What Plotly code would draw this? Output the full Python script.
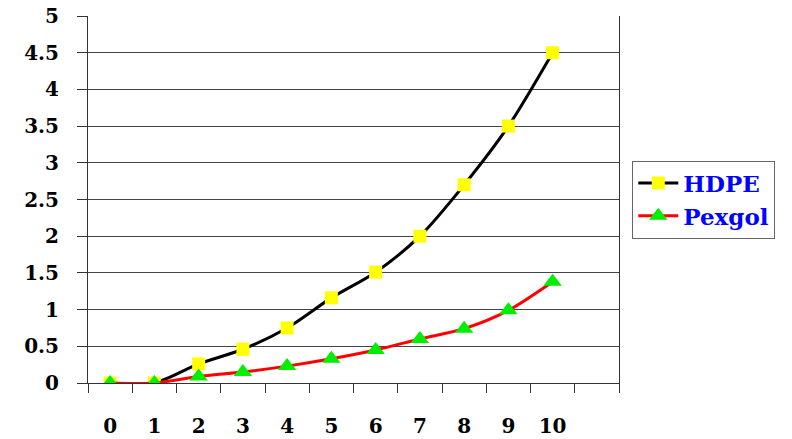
import plotly.graph_objects as go

x_vals = [0, 1, 2, 3, 4, 5, 6, 7, 8, 9, 10]
hdpe = [0, 0, 0.26, 0.46, 0.75, 1.16, 1.51, 2.0, 2.7, 3.5, 4.5]
pexgol = [0, 0, 0.09, 0.15, 0.23, 0.33, 0.45, 0.6, 0.74, 0.99, 1.38]
y_ticks = [0, 0.5, 1, 1.5, 2, 2.5, 3, 3.5, 4, 4.5, 5]
y_labels = ["0", "0.5", "1", "1.5", "2", "2.5", "3", "3.5", "4", "4.5", "5"]

SERIF = "DejaVu Serif"

fig = go.Figure()
fig.add_trace(go.Scatter(
    x=x_vals, y=hdpe, name="HDPE", mode="lines+markers",
    line=dict(color="black", width=3, shape="spline", smoothing=0.8),
    marker=dict(symbol="square", color="#FFFF00", size=13, line=dict(width=0)),
))
fig.add_trace(go.Scatter(
    x=x_vals, y=pexgol, name="Pexgol", mode="lines+markers",
    line=dict(color="#FF0000", width=3, shape="spline", smoothing=0.8),
    marker=dict(symbol="triangle-up", color="#00EE00", size=16, line=dict(width=0)),
))

tick_font = dict(family=SERIF, size=20, color="black", weight="bold")

fig.update_layout(
    template="none",
    width=784, height=431,
    margin=dict(l=80, r=173, t=8, b=56, autoexpand=False),
    paper_bgcolor="white", plot_bgcolor="white",
    font=dict(family=SERIF),
    showlegend=True,
    legend=dict(
        x=1.025, xanchor="left", y=0.5, yanchor="middle",
        bgcolor="white", bordercolor="#666666", borderwidth=1,
        font=dict(family=SERIF, size=23, color="#0000FF", weight="bold"),
        itemwidth=40,
    ),
    xaxis=dict(
        range=[-0.5, 11.5], tickmode="array", tickvals=x_vals,
        ticktext=[str(v) for v in x_vals],
        ticks="", showgrid=False, zeroline=False,
        showline=True, linecolor="#333333", linewidth=1,
        tickfont=tick_font,
        ticklabelstandoff=25, ticklabeloverflow="allow",
        minor=dict(ticks="outside", ticklen=9, tickcolor="#333333", tickwidth=1,
                   tick0=-0.5, dtick=1, showgrid=False),
    ),
    yaxis=dict(
        range=[0, 5], tickmode="array", tickvals=y_ticks, ticktext=y_labels,
        ticks="outside", ticklen=10, tickcolor="#333333", tickwidth=1,
        showgrid=True, gridcolor="#444444", gridwidth=1, zeroline=False,
        showline=True, linecolor="#333333", linewidth=1, mirror=True,
        tickfont=tick_font,
        ticklabelstandoff=14, ticklabeloverflow="allow",
    ),
)

fig.write_html("out.html")
